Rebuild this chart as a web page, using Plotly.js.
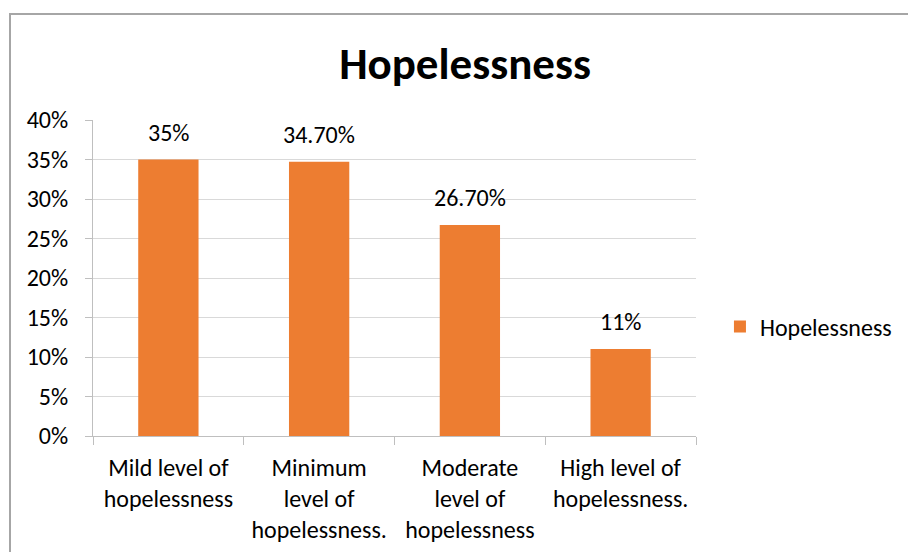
<!DOCTYPE html>
<html><head><meta charset="utf-8">
<script src="https://cdn.plot.ly/plotly-3.0.1.min.js"></script>
<style>
html,body{margin:0;padding:0;background:#fff;}
#chart{position:absolute;left:0;top:0;width:908px;height:552px;}
#frame{position:absolute;left:9px;top:13px;width:920px;height:560px;border:2px solid #a6a6a6;pointer-events:none;box-sizing:border-box;}
</style></head>
<body>
<div id="chart"></div>
<div id="frame"></div>
<script>
const categories = ["Mild level of<br>hopelessness", "Minimum<br>level of<br>hopelessness.", "Moderate<br>level of<br>hopelessness", "High level of<br>hopelessness."];
const values = [0.35, 0.347, 0.267, 0.11];
const labels = ["35%", "34.70%", "26.70%", "11%"];
const seriesName = "Hopelessness";
const yTicks = [0, 0.05, 0.10, 0.15, 0.20, 0.25, 0.30, 0.35, 0.40];
const yTickText = ["0%", "5%", "10%", "15%", "20%", "25%", "30%", "35%", "40%"];

const FONT = "Carlito, Lato, 'Liberation Sans', sans-serif";
const FS = 24;

const trace = {
  type: 'bar', x: categories, y: values, name: seriesName,
  marker: {color: '#ED7D31'}, showlegend: true, hoverinfo: 'none'
};

const annotations = categories.map((c, i) => ({
  x: c, y: values[i], xref: 'x', yref: 'y', text: labels[i],
  showarrow: false, yanchor: 'bottom', yshift: 11,
  font: {family: FONT, size: FS, color: '#000'}
}));

const layout = {
  width: 908, height: 552,
  margin: {l: 93, r: 211, t: 120, b: 116},
  paper_bgcolor: '#fff', plot_bgcolor: '#fff',
  font: {family: FONT, size: FS, color: '#000'},
  title: {text: '<b>Hopelessness</b>', font: {family: FONT, size: 45, color: '#000'},
          x: 465/908, xref: 'container', y: 1 - 63/552, yref: 'container', xanchor: 'center', yanchor: 'middle'},
  bargap: 0.6,
  xaxis: {type: 'category', showgrid: false, showline: true, linecolor: '#bfbfbf', linewidth: 1,
          ticks: 'outside', tickson: 'boundaries', ticklen: 8, tickcolor: '#bfbfbf',
          ticklabelstandoff: 10,
          tickfont: {family: FONT, size: FS, color: '#000'}, fixedrange: true},
  yaxis: {range: [0, 0.4], tickvals: yTicks, ticktext: yTickText, showgrid: true, gridcolor: '#d9d9d9',
          showline: true, linecolor: '#bfbfbf', ticks: 'outside', ticklen: 7, tickcolor: '#bfbfbf',
          zeroline: false, ticklabelstandoff: 12,
          tickfont: {family: FONT, size: FS, color: '#000'}, fixedrange: true},
  legend: {x: 1.038, xanchor: 'left', y: 0.345, yanchor: 'middle', font: {family: FONT, size: FS, color: '#000'}},
  annotations: annotations
};
Plotly.newPlot('chart', [trace], layout, {displayModeBar: false, staticPlot: true});
</script>
</body></html>
